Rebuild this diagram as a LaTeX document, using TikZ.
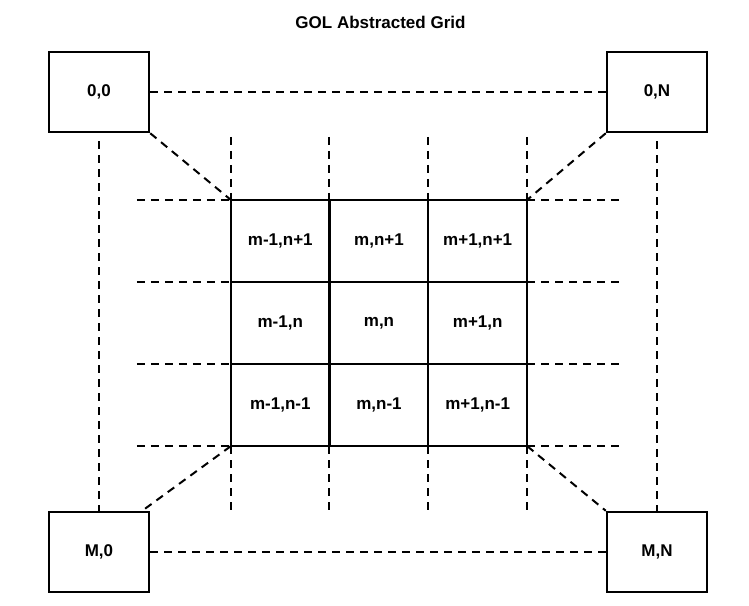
\documentclass[tikz,border=0pt]{standalone}
\usepackage{fontspec}
\setmainfont{Liberation Sans}
\begin{document}
\begin{tikzpicture}[x=1pt,y=-1pt,
  lbl/.style={font=\bfseries\fontsize{17}{19}\selectfont},
  corner/.style={lbl, draw, line width=2.5pt, minimum width=100pt, minimum height=80pt, inner sep=0pt},
  cell/.style={lbl, minimum width=98.7pt, minimum height=82pt, inner sep=0pt},
  gridline/.style={line width=2.2pt, line cap=rect},
  dline/.style={line width=2pt, dash pattern=on 8pt off 6pt}]
\useasboundingbox (0,0) rectangle (749,605);
\node[lbl] (title) at (380.5,22) {GOL Abstracted Grid};
% corner boxes
\node[corner] (c00) at (99,92) {0,0};
\node[corner] (c0N) at (657,92) {0,N};
\node[corner] (cM0) at (99,552) {M,0};
\node[corner] (cMN) at (657,552) {M,N};
% grid cells
\node[cell] (g11) at (280.3,241) {m-1,n+1};
\node[cell] (g12) at (379,241) {m,n+1};
\node[cell] (g13) at (477.7,241) {m+1,n+1};
\node[cell] (g21) at (280.3,323) {m-1,n};
\node[cell] (g22) at (379,323) {m,n};
\node[cell] (g23) at (477.7,323) {m+1,n};
\node[cell] (g31) at (280.3,405) {m-1,n-1};
\node[cell] (g32) at (379,405) {m,n-1};
\node[cell] (g33) at (477.7,405) {m+1,n-1};
% grid lines
\draw[gridline] (g11.north west) rectangle (g33.south east);
\draw[gridline] (g12.north west) -- (g32.south west);
\draw[gridline] (g13.north west) -- (g33.south west);
\draw[gridline] (g21.north west) -- (g23.north east);
\draw[gridline] (g31.north west) -- (g33.north east);
% outer dashed frame
\draw[dline] (c00.east) -- (c0N.west);
\draw[dline] (cM0.east) -- (cMN.west);
\draw[dline] ([yshift=-8pt]c00.south) -- (cM0.north);
\draw[dline] ([yshift=-8pt]c0N.south) -- (cMN.north);
% diagonals
\draw[dline] (c00.south east) -- (g11.north west);
\draw[dline] (c0N.south west) -- (g13.north east);
\draw[dline] (g31.south west) -- ([xshift=-8pt]cM0.north east);
\draw[dline] (g33.south east) -- (cMN.north west);
% vertical stubs
\foreach \a/\b in {g11.north west/g31.south west, g12.north west/g32.south west, g13.north west/g33.south west, g13.north east/g33.south east}{
  \coordinate (t) at ([yshift=63pt]\a);
  \coordinate (u) at ([yshift=-67pt]\b);
  \draw[dline] (t) -- (\a);
  \draw[dline] (\b) -- (u);
}
% horizontal stubs
\foreach \a/\b in {g11.north west/g13.north east, g21.north west/g23.north east, g31.north west/g33.north east, g31.south west/g33.south east}{
  \coordinate (l) at ([xshift=-94pt]\a);
  \coordinate (r) at ([xshift=93pt]\b);
  \draw[dline] (l) -- (\a);
  \draw[dline] (\b) -- (r);
}
\end{tikzpicture}
\end{document}
